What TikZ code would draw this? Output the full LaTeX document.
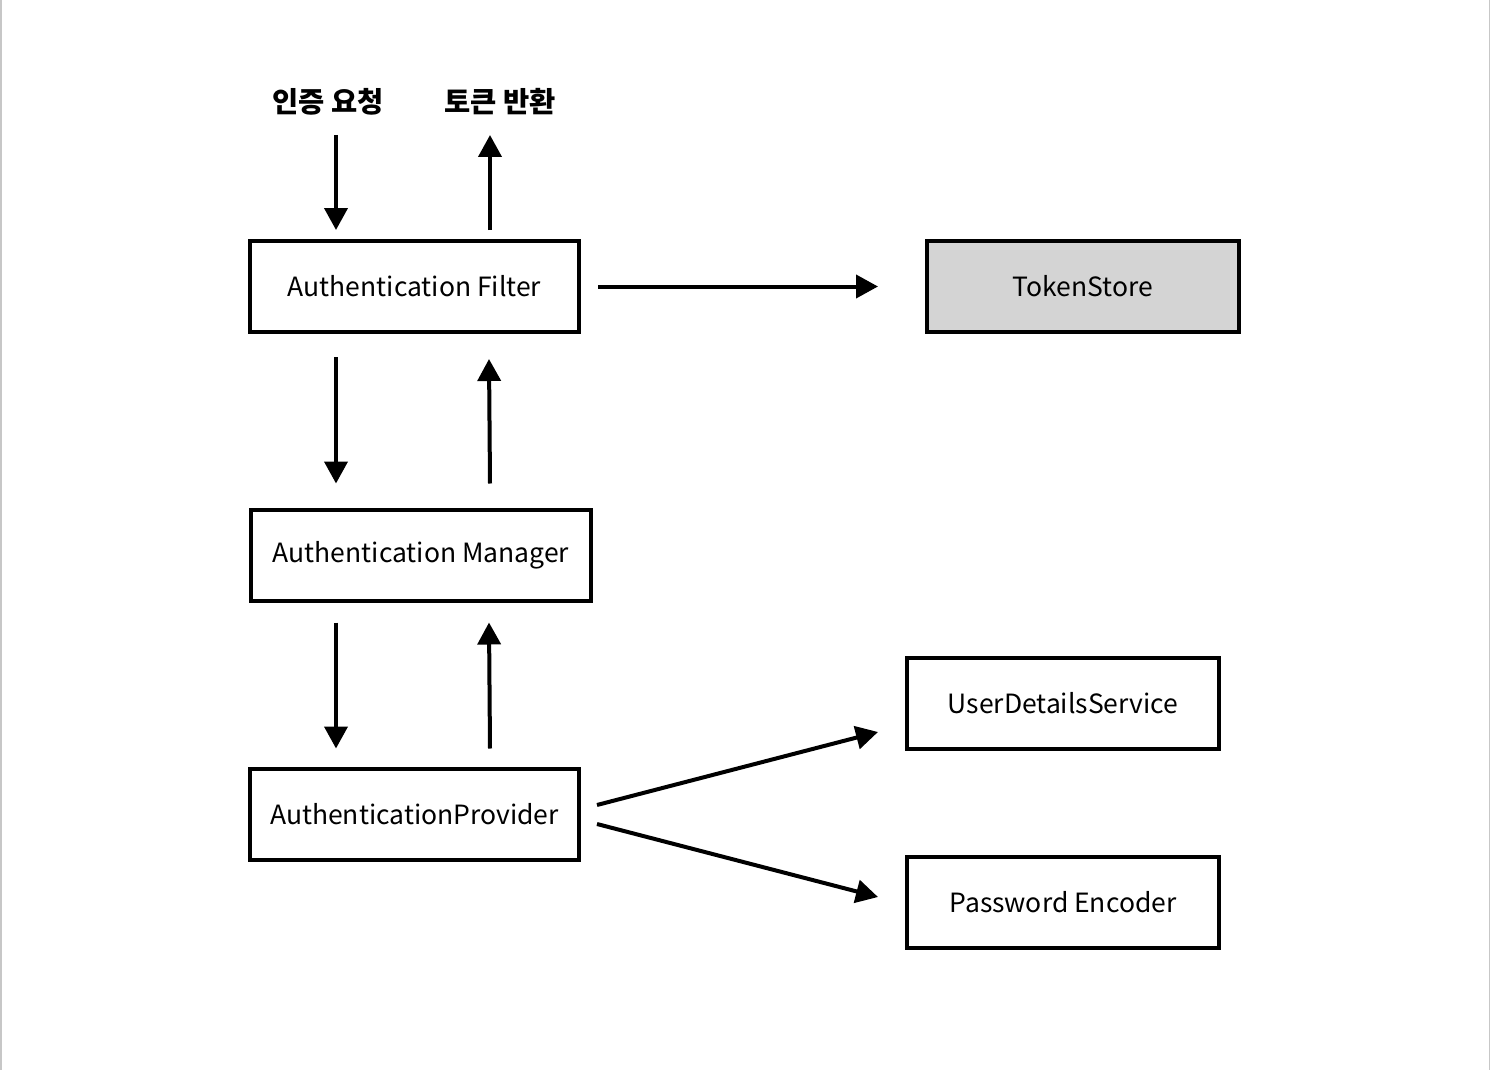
\documentclass[tikz,border=0pt]{standalone}
\usepackage{fontspec}
\setmainfont{Noto Sans CJK KR}
\usetikzlibrary{arrows.meta}
\begin{document}
\begin{tikzpicture}[x=1pt,y=-1pt,
  box/.style={draw,line width=4pt,minimum height=91pt,inner sep=0pt,font=\fontsize{26.5}{30}\selectfont},
  arr/.style={line width=4pt,-{Triangle[length=22pt,width=23pt]}},
  lbl/.style={font=\fontsize{28.5}{32}\selectfont\bfseries}]
\useasboundingbox (0,0) rectangle (1492,1070);
\draw[line width=1.5pt,black!22] (0.75,0) -- (0.75,1070);
\draw[line width=1.5pt,black!22] (1489.5,0) -- (1489.5,1070);
% boxes
\node[box,minimum width=329pt] (filter) at (414.5,286.5) {Authentication Filter};
\node[box,minimum width=312pt,fill={rgb,255:red,212;green,212;blue,212}] (store) at (1083,286.5) {TokenStore};
\node[box,minimum width=340pt] (manager) at (421,555) {Authentication Manager};
\node[box,minimum width=329pt] (provider) at (414.5,814) {AuthenticationProvider};
\node[box,minimum width=312pt] (uds) at (1063,703.5) {UserDetailsService};
\node[box,minimum width=312pt] (pe) at (1063,902.5) {Password Encoder};
% labels
\node[lbl] (req) at (328,102) {인증 요청};
\node[lbl] (ret) at (500,102) {토큰 반환};
% connectors
\draw[arr] ([xshift=8pt,yshift=-33pt]req.center) -- ([xshift=-78.5pt,yshift=9pt]filter.north);
\draw[arr] ([xshift=75.5pt,yshift=9pt]filter.north) -- ([xshift=-10pt,yshift=-33pt]ret.center);
\draw[arr] ([xshift=17pt]filter.east) -- ([xshift=-47pt]store.west);
\draw[arr] ([xshift=-78.5pt,yshift=-23pt]filter.south) -- ([xshift=-85pt,yshift=24pt]manager.north);
\draw[arr] ([xshift=69pt,yshift=24pt]manager.north) -- ([xshift=74.5pt,yshift=-25pt]filter.south);
\draw[arr] ([xshift=-85pt,yshift=-20pt]manager.south) -- ([xshift=-78.5pt,yshift=18pt]provider.north);
\draw[arr] ([xshift=75.5pt,yshift=18pt]provider.north) -- ([xshift=68pt,yshift=-20pt]manager.south);
\draw[arr] ([xshift=16pt,yshift=9pt]provider.east) -- ([xshift=-27pt,yshift=-28.5pt]uds.west);
\draw[arr] ([xshift=16pt,yshift=-10pt]provider.east) -- ([xshift=-27pt,yshift=5.5pt]pe.west);
\end{tikzpicture}
\end{document}
